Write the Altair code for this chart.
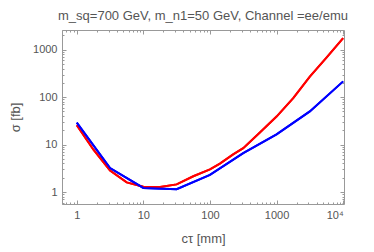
import altair as alt
import pandas as pd

# data
ctau_red = [1, 1.78, 3.16, 5.62, 10, 17.8, 31.6, 56.2, 100, 141, 223, 316, 562, 1000, 1780, 3160, 5620, 10000]
sigma_red = [25.5, 7.8, 2.85, 1.6, 1.3, 1.28, 1.45, 2.15, 3.0, 3.96, 6.2, 8.4, 18, 39, 95, 270, 680, 1750]
ctau_blue = [1, 3.16, 10, 31.6, 100, 316, 1000, 3160, 10000]
sigma_blue = [29, 3.2, 1.22, 1.15, 2.3, 6.6, 16.5, 50, 215]

x_major = [1, 10, 100, 1000, 10000]
y_major = [1, 10, 100, 1000]
x_minor = [m * 10 ** e for e in range(-1, 4) for m in range(2, 10) if 0.6 <= m * 10 ** e <= 10300]
y_minor = [m * 10 ** e for e in range(-1, 4) for m in range(2, 10) if 0.56 <= m * 10 ** e <= 2600]

df_red = pd.DataFrame({"ctau": ctau_red, "sigma": sigma_red})
df_blue = pd.DataFrame({"ctau": ctau_blue, "sigma": sigma_blue})

GRAY = "#999999"
TXT = "#555555"
FONT = "Liberation Sans"

xs = alt.Scale(type="log", domain=[0.6, 10300], nice=False)
ys = alt.Scale(type="log", domain=[0.56, 2600], nice=False)


def axis(orient, values, size, labels=False, title=None, expr=None,
         lpad=2, tpad=4):
    kw = dict(
        orient=orient, values=values, grid=False, domain=False,
        tickColor=GRAY, tickWidth=1, tickSize={"expr": str(-size)},
        labels=labels, title=title,
    )
    if labels:
        kw.update(labelFont=FONT, labelFontSize=11, labelColor=TXT,
                  labelPadding=lpad + size)
        if expr:
            kw["labelExpr"] = expr
    if title:
        kw.update(titleFont=FONT, titleFontSize=13, titleColor=TXT,
                  titleFontWeight="normal", titlePadding=tpad)
    return alt.Axis(**kw)


def layer(df, color, xax, yax):
    return alt.Chart(df).mark_line(color=color, strokeWidth=2).encode(
        x=alt.X("ctau:Q", scale=xs, axis=xax),
        y=alt.Y("sigma:Q", scale=ys, axis=yax),
    )


l1 = layer(df_red, "#ff0000",
           axis("bottom", x_major, 4, True, "cτ [mm]",
                "datum.value >= 10000 ? '10⁴' : format(datum.value, 'd')",
                lpad=5, tpad=12),
           axis("left", y_major, 4, True, "σ [fb]",
                "format(datum.value, 'd')", lpad=5, tpad=10))
l2 = layer(df_blue, "#0000ff", axis("bottom", x_minor, 2), axis("left", y_minor, 2))
l3 = layer(df_red, "#ff0000", axis("top", x_major, 4), axis("right", y_major, 4))
l4 = layer(df_blue, "#0000ff", axis("top", x_minor, 2), axis("right", y_minor, 2))

chart = alt.layer(l1, l2, l3, l4).resolve_axis(
    x="independent", y="independent"
).properties(
    width=282, height=174,
    autosize=alt.AutoSizeParams(type="none"),
    padding={"left": 54, "top": 22, "right": 22, "bottom": 44},
    title=alt.TitleParams(
        "m_sq=700 GeV, m_n1=50 GeV, Channel =ee/emu",
        font=FONT, fontSize=13, color=TXT, fontWeight="normal",
        anchor="middle", offset=7,
    ),
).configure_view(stroke=GRAY, strokeWidth=1)

chart.save("out.html", embed_options={"renderer": "svg", "actions": False})
